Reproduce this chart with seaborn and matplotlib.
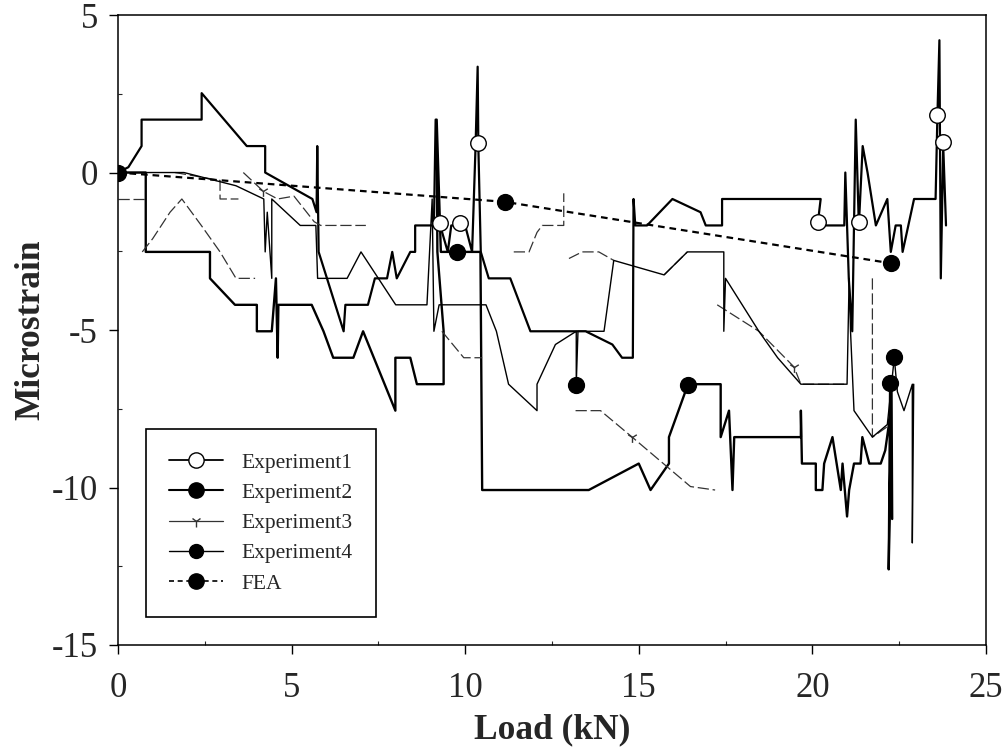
import pandas as pd
import matplotlib
matplotlib.use("Agg")
import matplotlib.pyplot as plt
from matplotlib.lines import Line2D
from matplotlib.ticker import MultipleLocator
import seaborn as sns

# =========================
# DATA (load in kN, strain in microstrain)
# =========================

exp1_load = [0, 0.3, 0.68, 0.68, 2.41, 2.41, 3.71, 4.24, 4.24, 5.6,
             5.72, 5.74, 5.78, 6.5, 6.55, 7.2, 7.4, 7.75, 7.9, 8.03,
             8.42, 8.56, 8.56, 9.1, 9.15, 9.22, 9.28, 9.5, 9.6, 9.84,
             10.0, 10.2, 10.3, 10.36, 10.38, 10.45, 10.68, 11.3, 11.88, 13.47,
             14.24, 14.52, 14.83, 14.85, 14.9, 15.24, 15.97, 16.78, 16.93, 17.4,
             17.4, 20.24, 20.15, 20.92, 20.95, 21.05, 21.15, 21.25, 21.34, 21.45,
             21.59, 21.83, 22.16, 22.26, 22.4, 22.55, 22.6, 22.93, 23.55, 23.6,
             23.66, 23.7, 23.77, 23.85]
exp1_strain = [0, 0.17, 0.84, 1.68, 1.68, 2.52, 0.84, 0.84, 0, -0.84,
               -1.26, 0.84, -2.52, -5.04, -4.2, -4.2, -3.36, -3.36, -2.52, -3.36,
               -2.52, -2.52, -1.68, -1.68, 1.68, -1.0, -1.68, -2.52, -1.68, -1.68,
               -1.68, -2.52, 0.84, 3.36, 0.84, -2.52, -3.36, -3.36, -5.04, -5.04,
               -5.46, -5.88, -5.88, -0.84, -1.68, -1.68, -0.84, -1.26, -1.68, -1.68,
               -0.84, -0.84, -1.68, -1.68, 0.0, -3.36, -5.04, 1.68, -1.68, 0.84,
               0.0, -1.68, -0.84, -2.52, -1.68, -1.68, -2.52, -0.84, -0.84, 1.68,
               4.2, -3.36, 0.84, -1.68]
exp1_mark_load = [9.28, 9.84, 10.36, 20.15, 21.34, 23.6, 23.77]
exp1_mark_strain = [-1.6, -1.6, 0.93, -1.56, -1.56, 1.83, 0.98]

exp2_load = [0, 0.8, 0.8, 2.65, 2.65, 3.37, 4.0, 4.0, 4.43, 4.55,
             4.6, 4.62, 5.58, 5.92, 6.2, 6.78, 7.06, 7.99, 7.99, 8.42,
             8.61, 9.38, 9.38, 9.2, 9.18, 9.3, 9.76, 10.44, 10.49, 13.56,
             15.0, 15.34, 15.87, 15.87, 16.42, 17.36, 17.36, 17.6, 17.7, 17.75,
             19.67, 19.67, 19.7, 20.1, 20.1, 20.29, 20.34, 20.58, 20.82, 20.87,
             21.0, 21.06, 21.2, 21.39, 21.44, 21.64, 21.97, 22.1, 22.26, 22.24,
             22.2, 22.28, 22.3]
exp2_strain = [0, 0, -2.52, -2.52, -3.36, -4.2, -4.2, -5.04, -5.04, -3.36,
               -5.88, -4.2, -4.2, -5.04, -5.88, -5.88, -5.04, -7.56, -5.88, -5.88,
               -6.72, -6.72, -5.04, -2.52, 1.68, -2.52, -2.52, -2.52, -10.08, -10.08,
               -9.24, -10.08, -9.24, -8.4, -6.72, -6.72, -8.4, -7.56, -10.08, -8.4,
               -8.4, -7.56, -9.24, -9.24, -10.08, -10.08, -9.24, -8.4, -10.08, -9.24,
               -10.92, -10.08, -9.24, -9.24, -8.4, -9.24, -9.24, -8.82, -7.56, -6.72,
               -12.6, -6.72, -11.0]
exp2_mark_load = [9.76, 16.42, 22.24]
exp2_mark_strain = [-2.51, -6.75, -6.69]

exp3_load = [0, 0.8,
             0.7, 1.0, 1.5, 1.84, 2.4, 2.94, 3.4, 3.95,
             1.64, 2.94, 2.94, 3.47,
             3.61, 4.19, 4.6, 5.07, 5.65, 5.84, 7.14,
             9.33, 9.96, 10.49,
             11.4, 11.84, 12.07, 12.22, 12.84, 12.84,
             12.99, 13.37, 13.85, 14.28,
             13.18, 13.9, 14.81, 16.49, 17.2,
             15.73, 16.4,
             17.26, 18.46, 19.47, 19.67, 21.0,
             21.73, 21.73, 22.16]
exp3_strain = [-0.84, -0.84,
               -2.52, -2.1, -1.26, -0.84, -1.68, -2.52, -3.36, -3.36,
               0.0, -0.25, -0.84, -0.84,
               0.0, -0.6, -0.84, -0.75, -1.56, -1.68, -1.68,
               -5.04, -5.88, -5.88,
               -2.52, -2.52, -1.9, -1.68, -1.68, -0.66,
               -2.73, -2.52, -2.52, -2.79,
               -7.56, -7.56, -8.4, -9.97, -10.08,
               -3.25, -2.52,
               -4.2, -5.04, -6.17, -6.72, -6.72,
               -3.36, -8.4, -8.07]
exp3_seg = [0, 0,
            1, 1, 1, 1, 1, 1, 1, 1,
            2, 2, 2, 2,
            3, 3, 3, 3, 3, 3, 3,
            4, 4, 4,
            5, 5, 5, 5, 5, 5,
            6, 6, 6, 6,
            7, 7, 7, 7, 7,
            8, 8,
            9, 9, 9, 9, 9,
            10, 10, 10]
exp3_mark_load = [4.19, 14.81, 19.47]
exp3_mark_strain = [-0.6, -8.39, -6.17]

exp4_load = [0, 1.9, 3.4, 4.2, 4.24, 4.3, 4.43, 4.43, 5.25, 5.7,
             5.75, 6.6, 7.0, 8.0, 8.9, 9.05, 9.1, 9.25, 10.6, 10.9,
             11.25, 12.07, 12.07, 12.6, 13.2, 13.2, 13.25, 14.0, 14.28, 15.73,
             16.4, 17.45, 17.45, 17.5, 18.46, 19.0, 19.67, 21.0, 21.06, 21.1,
             21.2, 21.73, 22.16, 22.36, 22.45, 22.64, 22.88, 22.88, 22.92]
exp4_strain = [0, 0, -0.42, -0.84, -2.52, -1.26, -3.36, -0.84, -1.68, -1.68,
               -3.36, -3.36, -2.52, -4.2, -4.2, -0.84, -5.04, -4.2, -4.2, -5.04,
               -6.72, -7.56, -6.72, -5.46, -5.04, -6.72, -5.04, -5.04, -2.79, -3.25,
               -2.52, -2.52, -5.04, -3.36, -5.04, -5.88, -6.72, -6.72, -3.36, -5.04,
               -7.56, -8.4, -8.0, -5.88, -6.96, -7.56, -6.72, -11.76, -6.72]
exp4_mark_load = [13.2, 22.36]
exp4_mark_strain = [-6.75, -5.85]

fea_load = [0, 11.14, 22.26]
fea_strain = [0, -0.93, -2.88]

# =========================
# STYLE
# =========================

sns.set_style("ticks")
plt.rcParams["font.family"] = ["Liberation Serif", "DejaVu Serif"]
plt.rcParams["axes.unicode_minus"] = False

fig, ax = plt.subplots(figsize=(10.04, 7.52), dpi=100)
fig.subplots_adjust(left=0.1175, right=0.982, top=0.980, bottom=0.1423)

# =========================
# LINES
# =========================

sns.lineplot(x=exp1_load, y=exp1_strain, sort=False, estimator=None,
             color="black", lw=1.6, ax=ax)
sns.lineplot(x=exp2_load, y=exp2_strain, sort=False, estimator=None,
             color="black", lw=1.7, ax=ax)

df3 = pd.DataFrame({"load": exp3_load, "strain": exp3_strain, "seg": exp3_seg})
sns.lineplot(data=df3, x="load", y="strain", units="seg", sort=False,
             estimator=None, color="#333333", lw=0.9,
             linestyle=(0, (9, 3)), ax=ax)

sns.lineplot(x=exp4_load, y=exp4_strain, sort=False, estimator=None,
             color="black", lw=1.0, ax=ax)
sns.lineplot(x=fea_load, y=fea_strain, sort=False, estimator=None,
             color="black", lw=1.6, linestyle=(0, (3, 2.2)), ax=ax)

# markers
sns.scatterplot(x=exp1_mark_load, y=exp1_mark_strain, marker="o", s=125,
                color="white", edgecolor="black", linewidth=1.0, zorder=5, ax=ax)
sns.scatterplot(x=exp2_mark_load, y=exp2_mark_strain, marker="o", s=130,
                color="black", edgecolor="black", linewidth=1.0, zorder=5, ax=ax)
sns.scatterplot(x=exp3_mark_load, y=exp3_mark_strain, marker="1", s=60,
                color="#333333", linewidth=1.0, zorder=5, ax=ax)
sns.scatterplot(x=exp4_mark_load, y=exp4_mark_strain, marker="o", s=130,
                color="black", edgecolor="black", linewidth=1.0, zorder=5, ax=ax)
sns.scatterplot(x=fea_load, y=fea_strain, marker="o", s=130,
                color="black", edgecolor="black", linewidth=1.0, zorder=6, ax=ax)

# =========================
# AXES
# =========================

ax.set_xlim(0, 25)
ax.set_ylim(-15, 5)
ax.xaxis.set_major_locator(MultipleLocator(5))
ax.xaxis.set_minor_locator(MultipleLocator(2.5))
ax.yaxis.set_major_locator(MultipleLocator(5))
ax.yaxis.set_minor_locator(MultipleLocator(2.5))
ax.tick_params(axis="both", which="major", direction="out", length=6.5,
               width=1.0, labelsize=25, color="black")
ax.tick_params(axis="x", which="major", pad=13)
ax.tick_params(axis="y", which="major", pad=8)
ax.tick_params(axis="both", which="minor", direction="in", length=3, width=0.8)
for sp in ax.spines.values():
    sp.set_visible(True)
    sp.set_linewidth(1.1)
    sp.set_color("black")

ax.set_xlabel("Load (kN)", fontsize=25.5, fontweight="bold", labelpad=6)
ax.set_ylabel("Microstrain", fontsize=25.5, fontweight="bold", labelpad=3)

# =========================
# LEGEND
# =========================

handles = [
    Line2D([], [], color="black", lw=1.3, marker="o", ms=11,
           mfc="white", mec="black"),
    Line2D([], [], color="black", lw=1.5, marker="o", ms=11,
           mfc="black", mec="black"),
    Line2D([], [], color="#333333", lw=0.9, marker="1", ms=8),
    Line2D([], [], color="black", lw=1.0, marker="o", ms=10,
           mfc="black", mec="black"),
    Line2D([], [], color="black", lw=1.2, linestyle=(0, (3, 2.2)),
           marker="o", ms=11, mfc="black", mec="black"),
]
labels = ["Experiment1", "Experiment2", "Experiment3", "Experiment4", "FEA"]
leg = ax.legend(handles, labels, loc="lower left", bbox_to_anchor=(0.032, 0.044),
                borderaxespad=0, frameon=True, fancybox=False, edgecolor="black",
                fontsize=15.5, handlelength=2.5, handletextpad=0.85,
                labelspacing=0.47, borderpad=1.1)
leg.get_frame().set_linewidth(1.2)
leg.get_frame().set_alpha(1)

fig.savefig("out.png", dpi=100)
